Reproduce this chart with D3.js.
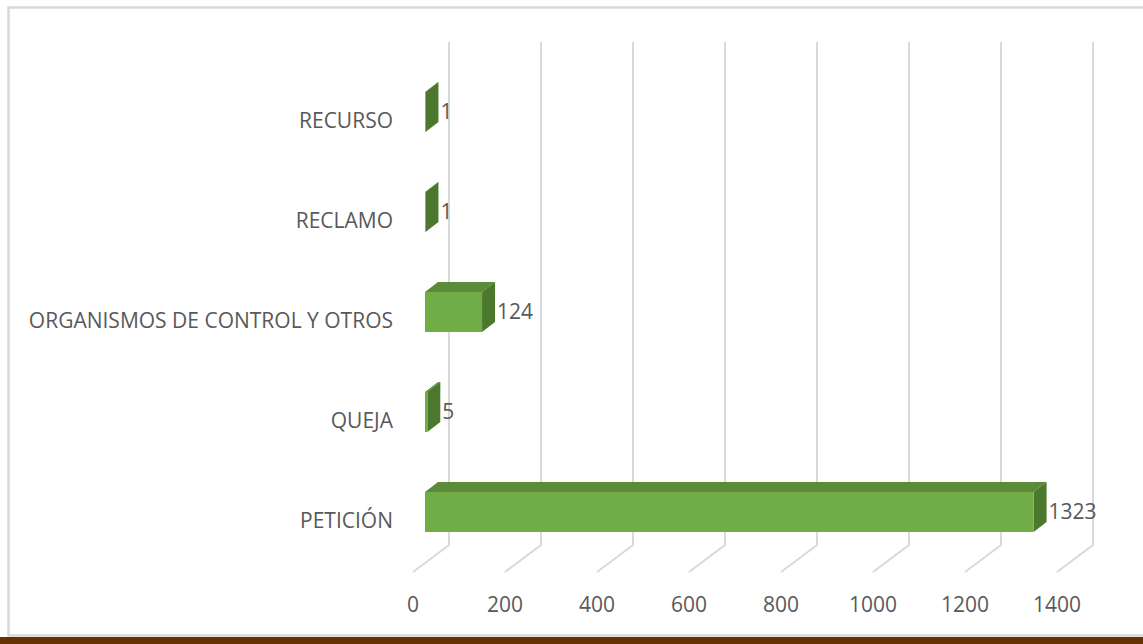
<!DOCTYPE html>
<html>
<head>
<meta charset="utf-8">
<script src="https://cdn.jsdelivr.net/npm/d3@7"></script>
<style>
  body { margin: 0; background: #fff; }
  svg { display: block; }
  text { font-family: 'Open Sans', sans-serif; fill: #595959; }
</style>
</head>
<body>
<div id="chart"></div>
<script>
// categories top to bottom, as shown
const categories = ['RECURSO', 'RECLAMO', 'ORGANISMOS DE CONTROL Y OTROS', 'QUEJA', 'PETICIÓN'];
const values = [1, 1, 124, 5, 1323];
const ticks = [0, 200, 400, 600, 800, 1000, 1200, 1400];

const width = 1143, height = 644;

const svg = d3.select('#chart').append('svg')
    .attr('width', width)
    .attr('height', height);

// outer frame + brown band at the bottom
svg.append('rect')
    .attr('x', 8.5).attr('y', 7.5)
    .attr('width', width).attr('height', 628)
    .attr('fill', '#fff')
    .attr('stroke', '#d9d9d9')
    .attr('stroke-width', 2.5);
svg.append('rect')
    .attr('x', 0).attr('y', 637)
    .attr('width', width).attr('height', 7)
    .attr('fill', '#663300');

// 3d geometry: floor depth and bar depth (dx, dy)
const floorDepth = {dx: 36, dy: 27};
const barInset = {dx: 12, dy: 9};
const barDepth = {dx: 13, dy: 10};
const floorFrontY = 572;
const wallTopY = 42;

const x = d3.scaleLinear().domain([0, 1400]).range([413, 1057]);
const y = d3.scaleBand()
    .domain(categories)
    .range([62, 562])
    .paddingInner(0.6)
    .paddingOuter(0.3);

// grid: vertical line on back wall, then diagonal across the floor
const grid = svg.append('g').attr('class', 'grid');
grid.selectAll('path')
    .data(ticks)
    .enter().append('path')
    .attr('d', d => {
        const xb = x(d) + floorDepth.dx;
        const yb = floorFrontY - floorDepth.dy;
        return `M${xb},${wallTopY}L${xb},${yb}L${x(d)},${floorFrontY}`;
    })
    .attr('fill', 'none')
    .attr('stroke', '#d9d9d9')
    .attr('stroke-width', 2);

// tick labels under front edge of floor
svg.append('g').selectAll('text')
    .data(ticks)
    .enter().append('text')
    .attr('x', d => x(d))
    .attr('y', 612)
    .attr('text-anchor', 'middle')
    .style('font-size', '21px')
    .text(d => d);

// bars
const data = categories.map((c, i) => ({cat: c, value: values[i]}));
const bar = svg.append('g').selectAll('g')
    .data(data)
    .enter().append('g');

const x0 = x(0) + barInset.dx;
const xr = d => x(d.value) + barInset.dx;
const h = y.bandwidth();

bar.append('path')
    .attr('d', d => {
        const t = y(d.cat), x1 = xr(d);
        return `M${x0},${t}L${x1},${t}L${x1 + barDepth.dx},${t - barDepth.dy}L${x0 + barDepth.dx},${t - barDepth.dy}Z`;
    })
    .attr('fill', '#5b8a38');

bar.append('path')
    .attr('d', d => {
        const t = y(d.cat), x1 = xr(d);
        return `M${x1},${t}L${x1 + barDepth.dx},${t - barDepth.dy}L${x1 + barDepth.dx},${t + h - barDepth.dy}L${x1},${t + h}Z`;
    })
    .attr('fill', '#4b782c');

bar.append('rect')
    .attr('x', x0)
    .attr('y', d => y(d.cat))
    .attr('width', d => xr(d) - x0)
    .attr('height', h)
    .attr('fill', '#70ad47');

// value labels
bar.append('text')
    .attr('x', d => xr(d) + barDepth.dx + 2)
    .attr('y', d => y(d.cat) + h / 2)
    .attr('dy', '0.35em')
    .style('font-size', '21px')
    .text(d => d.value);

// category labels
svg.append('g').selectAll('text')
    .data(categories)
    .enter().append('text')
    .attr('x', 393)
    .attr('y', d => y(d) + 29)
    .attr('dy', '0.35em')
    .attr('text-anchor', 'end')
    .style('font-size', '21px')
    .text(d => d);
</script>
</body>
</html>
